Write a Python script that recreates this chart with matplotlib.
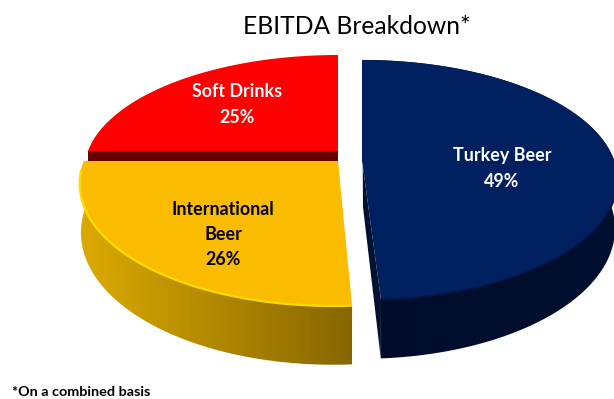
import numpy as np
import matplotlib
matplotlib.use('Agg')
import matplotlib.pyplot as plt
from matplotlib.colors import LinearSegmentedColormap
from matplotlib.patches import Polygon

plt.rcParams['font.family'] = ['Lato', 'DejaVu Sans']

names = ['Turkey Beer', 'International\nBeer', 'Soft Drinks']
shares = [49, 26, 25]
label_colors = ['white', 'black', 'white']
top_colors = ['#002060', '#fbbc00', '#ff0000']
# wall shading, left end to right end
wall_colors = [('#000c2a', '#000f30'), ('#dcaa00', '#866600'), ('#660000', '#660000')]
rim_colors = ['#001648', '#ffdc00', '#ff0000']

# pixel geometry of each exploded slice: centre x, centre y, x radius, y radius, shear
slices = [(362, 160, 252, 116.7, 0.0),
          (338, 161, 254, 120.8, -0.035),
          (338, 151, 250, 112, 0.0)]
bottom_scale = [0.99, 0.995, 1.0]
label_pos = [(502, 168.5), (223, 234.5), (237, 104.5)]
TILT = 1 / 6.0
DEPTH = 47


def top_face(cx, cy, rx, ry, shear, t):
    # circle seen in perspective, the near side comes out larger
    s = np.sin(t)
    w = 1 + TILT * s
    y = cy - ry * s / w
    return cx + rx * np.cos(t) / w + shear * (y - cy), y


fig = plt.figure(figsize=(6.14, 3.99), dpi=100)
ax = fig.add_axes([0, 0, 1, 1])

# slice angles, clockwise from twelve o'clock
edges = 90 - np.cumsum([0] + shares) * 3.6

for i in [2, 1, 0]:
    cx, cy, rx, ry, shear = slices[i]
    t = np.radians(np.linspace(edges[i], edges[i + 1], 160))
    x, y = top_face(cx, cy, rx, ry, shear, t)
    xb = cx + (x - cx) * bottom_scale[i]
    yb = y + DEPTH / (1 + 0.2 * np.sin(t))

    if i == 2:
        # the straight front cut of the back slice
        ax.add_patch(Polygon([(x[0], y[0]), (cx, cy), (cx, cy + 10), (x[0], y[0] + 10)],
                             fc=wall_colors[2][0], ec='none', zorder=1))
    else:
        wall = Polygon(np.r_[np.c_[x, y], np.c_[xb, yb][::-1]], fc='none', ec='none',
                       transform=ax.transData)
        ax.add_patch(wall)
        cmap = LinearSegmentedColormap.from_list('wall', wall_colors[i])
        img = ax.imshow(np.linspace(0, 1, 256).reshape(1, -1), cmap=cmap, aspect='auto',
                        extent=(min(x.min(), xb.min()), max(x.max(), xb.max()), 399, 0),
                        zorder=2, interpolation='bilinear')
        img.set_clip_path(wall)

    if i == 0:
        # cut face at the end of the arc, on the left of the navy slice
        ax.add_patch(Polygon([(x[0], y[0]), (cx, cy), (x[-1], y[-1]), (xb[-1], yb[-1]),
                              (cx + 1, cy + DEPTH)],
                             fc='#00122f', ec='none', zorder=2))

    ax.add_patch(Polygon(np.r_[[(cx, cy)], np.c_[x, y]], fc=top_colors[i], ec='none', zorder=3))
    if i < 2:
        low = y >= cy + 8
        ax.plot(x[low], y[low], color=rim_colors[i], lw=1.6 if i == 1 else 1.2, zorder=4,
                solid_capstyle='butt')

ax.set_xlim(0, 614)
ax.set_ylim(399, 0)
ax.axis('off')

for name, share, pos, col in zip(names, shares, label_pos, label_colors):
    ax.text(pos[0], pos[1], f'{name}\n{share}%', color=col, fontsize=12.9, fontweight='bold',
            ha='center', va='center', linespacing=1.58, zorder=5)

ax.text(357, 27, 'EBITDA Breakdown*', fontsize=17.7, ha='center', va='center', color='black')
ax.text(12, 392, '*On a combined basis', fontsize=10.4, fontweight='bold', ha='left', va='center', color='black')

fig.savefig('out.png', dpi=100)
